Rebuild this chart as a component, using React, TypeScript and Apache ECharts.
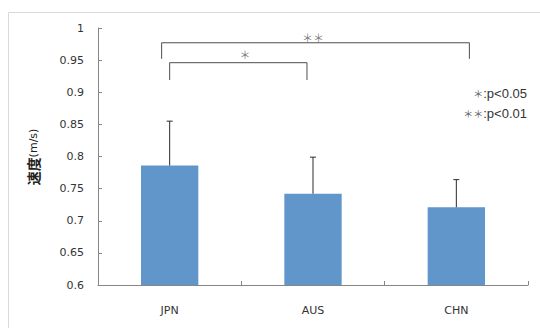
import React, { useEffect, useRef } from "react";
import * as echarts from "echarts";

const categories = ["JPN", "AUS", "CHN"];
const means = [0.786, 0.742, 0.721];
const upperErrors = [0.855, 0.799, 0.764];
const yTicks = { min: 0.6, max: 1, interval: 0.05 };
// bracket lines in category units (x) and speed values (y)
const bracketOuter = [[-0.056, 0.952], [-0.056, 0.977], [2.091, 0.977], [2.091, 0.952]];
const bracketInner = [[0.0, 0.919], [0.0, 0.946], [0.958, 0.946], [0.958, 0.919]];
const starMarks = [
  { pos: [1.0, 0.9855], text: "＊＊" },
  { pos: [0.526, 0.959], text: "＊" },
];
const legendLines = ["＊:p<0.05", "＊＊:p<0.01"];

export default function App() {
  const ref = useRef<HTMLDivElement>(null);
  useEffect(() => {
    if (!ref.current) return;
    const chart = echarts.init(ref.current, undefined, { renderer: "svg" });
    const axisColor = "#868686";
    const textColor = "#333";
    const bracketStyle = { color: "#4d4d4d", width: 1 };
    chart.setOption({
      animation: false,
      backgroundColor: "#fff",
      grid: { left: 98, right: 12, top: 28, bottom: 43, containLabel: false },
      xAxis: [
        {
          type: "category",
          data: categories,
          axisLine: { onZero: false, lineStyle: { color: axisColor, width: 1 } },
          axisTick: { show: true, inside: true, length: 4, interval: 0, lineStyle: { color: axisColor } },
          axisLabel: { color: textColor, fontFamily: "DejaVu Sans", fontSize: 11, margin: 20 },
          splitLine: { show: false },
        },
        {
          type: "value",
          min: -0.5,
          max: 2.5,
          show: false,
          axisLine: { show: false, onZero: false },
          splitLine: { show: false },
        },
      ],
      yAxis: {
        type: "value",
        min: yTicks.min,
        max: yTicks.max,
        interval: yTicks.interval,
        axisLine: { show: true, onZero: false, lineStyle: { color: axisColor, width: 1 } },
        axisTick: { show: true, inside: true, length: 4, lineStyle: { color: axisColor } },
        axisLabel: { color: textColor, fontFamily: "DejaVu Sans", fontSize: 11, margin: 14 },
        splitLine: { show: false },
      },
      series: [
        {
          type: "bar",
          data: means,
          barWidth: "40%",
          itemStyle: { color: "#6096c9" },
          xAxisIndex: 0,
        },
        {
          type: "custom",
          xAxisIndex: 0,
          z: 5,
          data: categories.map((_, i) => [i, means[i], upperErrors[i]]),
          renderItem: (params: any, api: any) => {
            const base = api.coord([api.value(0), api.value(1)]);
            const top = api.coord([api.value(0), api.value(2)]);
            const s = { stroke: "#2b2b2b", lineWidth: 1 };
            return {
              type: "group",
              children: [
                { type: "line", shape: { x1: base[0], y1: base[1], x2: top[0], y2: top[1] }, style: s },
                { type: "line", shape: { x1: top[0] - 3, y1: top[1], x2: top[0] + 3, y2: top[1] }, style: s },
              ],
            };
          },
        },
        {
          type: "line",
          xAxisIndex: 1,
          data: bracketOuter,
          symbol: "none",
          lineStyle: bracketStyle,
          silent: true,
        },
        {
          type: "line",
          xAxisIndex: 1,
          data: bracketInner,
          symbol: "none",
          lineStyle: bracketStyle,
          silent: true,
        },
        {
          type: "scatter",
          xAxisIndex: 1,
          symbolSize: 0.1,
          itemStyle: { color: "transparent" },
          data: starMarks.map((m) => ({ value: m.pos, name: m.text })),
          label: {
            show: true,
            position: "inside",
            formatter: (p: any) => p.name,
            color: "#555",
            fontFamily: "Noto Sans CJK JP",
            fontSize: 11,
          },
        },
      ],
      graphic: [
        {
          type: "rect",
          shape: { x: 8.5, y: 12.5, width: 540, height: 330 },
          style: { fill: "none", stroke: "#d9d9d9", lineWidth: 1 },
          silent: true,
        },
        {
          type: "text",
          x: 33,
          y: 157,
          rotation: Math.PI / 2,
          style: {
            text: "{a|速度}{b|(m/s)}",
            align: "center",
            verticalAlign: "middle",
            rich: {
              a: { fontFamily: "Noto Sans CJK JP", fontSize: 14, fontWeight: "bold", fill: "#222" },
              b: { fontFamily: "DejaVu Sans", fontSize: 11, fill: "#222" },
            },
          },
        },
        ...legendLines.map((t, i) => {
          const idx = t.indexOf(":");
          return {
            type: "text",
            x: 527,
            y: 93 + i * 20,
            style: {
              text: `{star|${t.slice(0, idx)}}{txt|${t.slice(idx)}}`,
              align: "right",
              verticalAlign: "middle",
              rich: {
                star: { fontFamily: "Noto Sans CJK JP", fontSize: 10, fill: "#666" },
                txt: { fontFamily: "Liberation Sans", fontSize: 13, fill: "#333" },
              },
            },
          };
        }),
      ],
    });
    return () => chart.dispose();
  }, []);
  return (
    <div
      ref={ref}
      style={{ position: "fixed", left: 0, top: 0, width: 540, height: 328 }}
    />
  );
}
